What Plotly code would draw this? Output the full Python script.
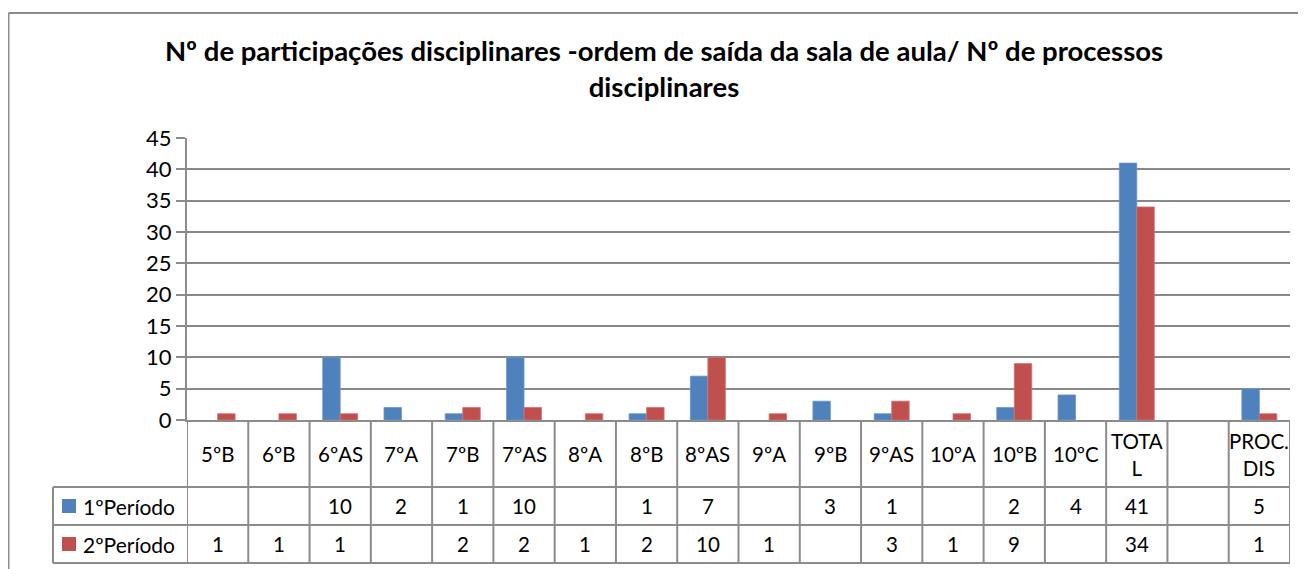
import plotly.graph_objects as go

categories = ["5ºB", "6ºB", "6ºAS", "7ºA", "7ºB", "7ºAS", "8ºA", "8ºB", "8ºAS", "9ºA",
              "9ºB", "9ºAS", "10ºA", "10ºB", "10ºC", "TOTAL", " ", "PROC.DIS"]
header_labels = ["5ºB", "6ºB", "6ºAS", "7ºA", "7ºB", "7ºAS", "8ºA", "8ºB", "8ºAS", "9ºA",
                 "9ºB", "9ºAS", "10ºA", "10ºB", "10ºC", "TOTA<br>L", "", "PROC.<br>DIS"]
periodo1 = [None, None, 10, 2, 1, 10, None, 1, 7, None, 3, 1, None, 2, 4, 41, None, 5]
periodo2 = [1, 1, 1, None, 2, 2, 1, 2, 10, 1, None, 3, 1, 9, None, 34, None, 1]
series_names = ["1ºPeríodo", "2ºPeríodo"]
y_ticks = [0, 5, 10, 15, 20, 25, 30, 35, 40, 45]
title_text = "Nº de participações disciplinares -ordem de saída da sala de aula/ Nº de processos<br>disciplinares"

BLUE = "#4F81BD"
RED = "#C0504D"
GRID = "#888888"
EDGE = "#8c8c8c"
FONT = "Lato"

OFF = 8  # page body margin
W, H = 1306 - OFF, 569 - OFF
# plot area in screen pixels
L, R, T, B = 187, 1290, 138, 420


def py(p):
    return (B - p) / (B - T)


def px(p):
    return (p - L) / (R - L)


fig = go.Figure()
fig.add_trace(go.Bar(x=categories, y=periodo1, name=series_names[0], marker_color=BLUE,
                     marker_line=dict(color="#6f97c9", width=0.8)))
fig.add_trace(go.Bar(x=categories, y=periodo2, name=series_names[1], marker_color=RED,
                     marker_line=dict(color="#d07270", width=0.8)))

shapes = []
ann = []
# outer chart frame (top and left edges visible)
shapes.append(dict(type="line", xref="paper", yref="paper", x0=px(8.5), x1=px(1330), y0=py(13), y1=py(13),
                   line=dict(color=EDGE, width=2)))
shapes.append(dict(type="line", xref="paper", yref="paper", x0=px(8.5), x1=px(8.5), y0=py(13), y1=py(590),
                   line=dict(color=EDGE, width=2)))

line_style = dict(color=EDGE, width=2)
row_tops = [420, 487, 525, 563]
for i in range(len(categories) + 1):
    shapes.append(dict(type="line", xref="x", yref="paper", x0=i - 0.5, x1=i - 0.5,
                       y0=py(420), y1=py(563), line=line_style))
for yy in row_tops[1:]:
    shapes.append(dict(type="line", xref="paper", yref="paper", x0=px(53), x1=1.0,
                       y0=py(yy), y1=py(yy), line=line_style))
shapes.append(dict(type="line", xref="paper", yref="paper", x0=px(53), x1=px(53),
                   y0=py(487), y1=py(563), line=line_style))

TFS = 20.5
for c, lab in zip(categories, header_labels):
    if lab:
        ann.append(dict(x=c, xref="x", yref="paper", y=py(454), text=lab, showarrow=False,
                        yanchor="middle", xanchor="center", font=dict(size=TFS, color="black", family=FONT)))

row_centers = [506, 544]
for vals, yc in zip([periodo1, periodo2], row_centers):
    for c, v in zip(categories, vals):
        if v is not None:
            ann.append(dict(x=c, xref="x", yref="paper", y=py(yc), text=str(v), showarrow=False,
                            yanchor="middle", xanchor="center", font=dict(size=TFS, color="black", family=FONT)))

for name, col, yc in zip(series_names, [BLUE, RED], row_centers):
    shapes.append(dict(type="rect", xref="paper", yref="paper", x0=px(62), x1=px(76),
                       y0=py(yc + 7), y1=py(yc - 7), fillcolor=col, line=dict(width=0)))
    ann.append(dict(x=px(81), xref="paper", yref="paper", y=py(yc), text=name, showarrow=False,
                    yanchor="middle", xanchor="left", font=dict(size=TFS + 0.5, color="black", family=FONT)))

fig.update_layout(
    width=W, height=H,
    margin=dict(l=L - OFF, r=W - (R - OFF), t=T - OFF, b=H - (B - OFF), autoexpand=False),
    paper_bgcolor="white", plot_bgcolor="white",
    showlegend=False,
    barmode="group", bargap=0.4286, bargroupgap=0,
    title=dict(text="<b>" + title_text + "</b>", x=(664 - OFF) / W, xref="container", xanchor="center",
               y=1 - (61 - OFF) / H, yanchor="top", yref="container",
               font=dict(size=27.5, color="black", family=FONT)),
    font=dict(family=FONT, color="black"),
    shapes=shapes, annotations=ann,
    xaxis=dict(type="category", showticklabels=False, showgrid=False, showline=True,
               linecolor=EDGE, linewidth=2, ticks="", range=[-0.5, len(categories) - 0.5]),
    yaxis=dict(range=[0, 45], tickvals=y_ticks, showgrid=True, gridcolor=GRID, gridwidth=1.5,
               showline=True, linecolor=EDGE, linewidth=2, ticks="outside", ticklen=9,
               tickcolor=EDGE, tickwidth=1.5, tickfont=dict(size=22, family=FONT, color="black"),
               zeroline=False),
)

fig.write_html("out.html")
